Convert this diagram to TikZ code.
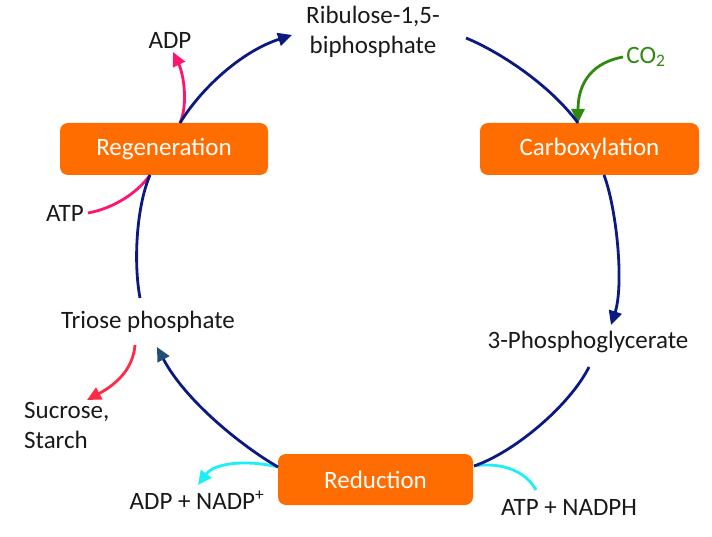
\documentclass[tikz,border=0pt]{standalone}
\usepackage{fontspec}
\setmainfont{Carlito}
\usetikzlibrary{arrows.meta}
\definecolor{navyc}{HTML}{0B1A80}
\definecolor{orangec}{HTML}{FF6D00}
\definecolor{pinkc}{HTML}{FF1470}
\definecolor{greenc}{HTML}{2F8A0F}
\definecolor{redc}{HTML}{FF2A45}
\definecolor{cyanc}{HTML}{1CF0F5}
\definecolor{tipblue}{HTML}{1F4E79}
\begin{document}
\begin{tikzpicture}[x=1pt,y=-1pt,
  box/.style={fill=orangec, rounded corners=8pt, text=white, minimum width=208pt, minimum height=52pt, inner sep=0pt, font=\fontsize{25}{29}\selectfont},
  lbl/.style={font=\fontsize{25}{30}\selectfont, text=black!90, inner sep=0pt},
  cyc/.style={navyc, line width=2.8pt},
  side/.style={line width=2.8pt},
  tip/.style={-{Triangle[length=14pt,width=13pt]}}]
\useasboundingbox (0,0) rectangle (712,537);
% boxes
\node[box] (reg) at (164,149) {Regeneration};
\node[box, minimum width=219pt] (carb) at (589.5,149) {Carboxylation};
\node[box, minimum width=195pt, minimum height=51pt] (red) at (375.5,479.5) {Reduction};
% labels
\node[lbl, align=center] (rubp) at (373,32) {Ribulose-1,5-\\biphosphate};
\node[lbl] (adp1) at (170,40) {ADP};
\node[lbl, text=greenc] (co2) at (646,57) {CO\textsubscript{2}};
\node[lbl] (atp1) at (65,213) {ATP};
\node[lbl] (tp) at (148,322) {Triose phosphate};
\node[lbl] (pga) at (588,342) {3-Phosphoglycerate};
\node[lbl, align=left, anchor=west] (suc) at (24,425) {Sucrose,\\Starch};
\node[lbl] (adpn) at (197,500) {ADP + NADP\textsuperscript{+}};
\node[lbl] (atpn) at (569,507) {ATP + NADPH};
% endpoints
\coordinate (regT) at (180,123);
\coordinate (regB) at (150,175);
\coordinate (rubpL) at (292,35);
\coordinate (rubpR) at (466,38);
\coordinate (carbT) at (578,123);
\coordinate (carbB) at (604,175);
\coordinate (pgaT) at (611,325);
\coordinate (pgaB) at (589,367);
\coordinate (redR) at (474,466);
\coordinate (redL) at (278,467);
\coordinate (tpB) at (157,347);
\coordinate (tpT) at (140,298);
\coordinate (atpE) at (88,213);
\coordinate (adpE) at (173,52);
\coordinate (co2E) at (623,57);
\coordinate (tpS) at (135,345);
\coordinate (sucE) at (87,400);
\coordinate (adpnE) at (198,485);
\coordinate (atpnE) at (536,490);
% side arrows
\draw[side, pinkc] (atpE) .. controls (115,208) and (138,192) .. (regB);
\draw[side, pinkc, tip] (regT) .. controls (188,105) and (184,75) .. (adpE);
\draw[side, greenc, tip] (co2E) .. controls (595,62) and (578,80) .. (carbT);
\draw[side, redc, tip] (tpS) .. controls (133,370) and (115,385) .. (sucE);
\draw[side, cyanc, tip] (redL) .. controls (250,460) and (215,462) .. (adpnE);
\draw[side, cyanc] (redR) .. controls (500,462) and (525,470) .. (atpnE);
% cycle
\draw[cyc, tip] (regT) .. controls (200,90) and (240,52) .. (rubpL);
\draw[cyc] (rubpR) .. controls (500,52) and (550,85) .. (carbT);
\draw[cyc, tip] (carbB) .. controls (617,210) and (624,285) .. (pgaT);
\draw[cyc] (pgaB) .. controls (570,405) and (515,452) .. (redR);
\draw[cyc, -{Triangle[length=14pt,width=13pt,color=tipblue]}] (redL) .. controls (240,445) and (185,400) .. (tpB);
\draw[cyc] (tpT) .. controls (133,260) and (137,205) .. (regB);
\end{tikzpicture}
\end{document}
